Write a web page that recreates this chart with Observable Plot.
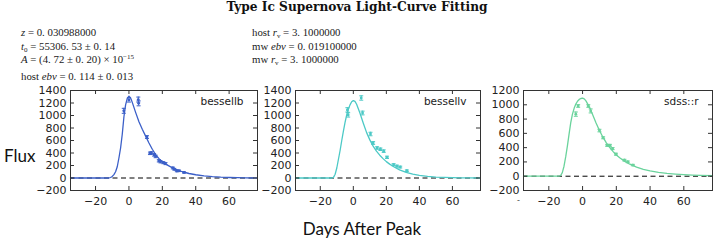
<!DOCTYPE html>
<html><head><meta charset="utf-8">
<script src="https://cdn.jsdelivr.net/npm/d3@7"></script>
<script src="https://cdn.jsdelivr.net/npm/@observablehq/plot@0.6"></script>
<style>
body{margin:0;background:#fff;}
#wrap{position:relative;width:714px;height:241px;overflow:hidden;background:#fff;}
.abs{position:absolute;white-space:nowrap;}
.title{font-family:"DejaVu Serif";font-weight:bold;font-size:12.2px;line-height:14px;left:0;width:714px;text-align:center;top:0px;color:#111;}
.param{font-family:"Liberation Serif";font-size:10.8px;line-height:12px;color:#1a1a1a;}
.param i{font-style:italic;}
.param sub{font-size:7px;vertical-align:-2px;line-height:0;}
.param sup{font-size:7px;vertical-align:4px;line-height:0;}
.big{font-family:Lato;font-size:17px;color:#111;line-height:20px;}
.panel{position:absolute;top:80px;}
.dash{font-family:"DejaVu Sans";font-size:8px;line-height:6px;color:#444;}
</style></head><body><div id="wrap"></div>
<script>
// ---- data ----
const bandNames = ["bessellb", "bessellv", "sdss::r"];
const bandColors = ["#3b5fc8", "#4cc9c6", "#6ad39c"];
const xDomain = [-35, 77];
const xTicks = [-20, 0, 20, 40, 60];
const yDomains = [[-200, 1400], [-200, 1400], [-200, 1200]];
const yTicksA = [-200, 0, 200, 400, 600, 800, 1000, 1200, 1400];
const yTicksB = [-200, 0, 200, 400, 600, 800, 1000, 1200];

// model curves (days after peak, flux)
const curveX = [-35, -14, -13, -12, -11, -10, -9, -8, -7, -6, -5, -4, -3, -2, -1, 0, 1, 2, 4, 6, 8, 10, 12, 14, 16, 18, 20, 22, 25, 28, 32, 36, 40, 45, 50, 55, 60, 65, 70, 77];
const curveB = [0, 0, 0, 0, 8, 25, 55, 100, 180, 320, 480, 700, 980, 1170, 1275, 1310, 1280, 1210, 1050, 900, 780, 670, 560, 460, 375, 310, 260, 222, 178, 140, 100, 72, 52, 34, 21, 13, 8, 5, 2, 0];
const curveV = [0, 0, 0, 10, 60, 160, 300, 440, 600, 750, 890, 1010, 1100, 1170, 1220, 1238, 1225, 1180, 1040, 880, 730, 610, 510, 430, 365, 310, 262, 222, 172, 130, 90, 62, 42, 26, 15, 9, 5, 3, 1, 0];
const curveR = [0, 0, 10, 50, 140, 270, 420, 590, 750, 870, 950, 1010, 1050, 1075, 1088, 1092, 1082, 1055, 970, 860, 745, 640, 550, 470, 405, 348, 298, 258, 208, 168, 126, 96, 75, 55, 40, 30, 22, 16, 12, 8];

// observations
const obsXB = [-3.1, 0.0, 5.6, 5.8, 10.8, 12.6, 13.5, 15.1, 16.0, 17.9, 18.9, 20.6, 21.9, 26.3, 27.2, 28.7, 30.0, 33.0];
const obsYB = [1075, 1250, 1255, 1195, 655, 395, 400, 370, 345, 275, 260, 245, 230, 160, 140, 112, 115, 88];
const obsEB = [40, 35, 40, 40, 22, 20, 20, 20, 20, 18, 18, 16, 16, 14, 14, 12, 12, 10];
const obsXV = [-3.6, -3.1, 4.8, 5.6, 10.4, 12.0, 14.4, 16.4, 18.4, 20.4, 24.4, 26.4, 28.4, 32.4];
const obsYV = [1090, 1010, 1280, 1040, 704, 560, 480, 460, 430, 331, 213, 190, 175, 117];
const obsEV = [35, 35, 35, 30, 28, 22, 20, 20, 20, 18, 16, 16, 15, 12];
const obsXR = [-4.0, -2.6, 3.4, 4.8, 10.0, 12.2, 14.6, 16.2, 17.8, 19.8, 24.8, 26.8, 29.8];
const obsYR = [869, 983, 983, 914, 639, 538, 432, 432, 386, 308, 225, 201, 156];
const obsER = [30, 18, 18, 28, 18, 14, 14, 14, 14, 14, 12, 12, 10];

// ---- layout ----
const curves = [curveB, curveV, curveR];
const obsX = [obsXB, obsXV, obsXR], obsY = [obsYB, obsYV, obsYR], obsE = [obsEB, obsEV, obsER];
const layout = [
  {left: 22, width: 240, ml: 48, mr: 5},
  {left: 262, width: 223, ml: 33, mr: 5},
  {left: 485, width: 229, ml: 38, mr: 2}
];
const H = 135, MT = 10, MB = 25, IH = H - MT - MB;
const cap = {draw(ctx, size) { const r = Math.sqrt(size / Math.PI); ctx.moveTo(-r, 0); ctx.lineTo(r, 0); }};
const fmt = d => (d < 0 ? "\u2212" : "") + Math.abs(d);

const wrap = document.getElementById("wrap");
function addText(html, cls, left, top) {
  const d = document.createElement("div");
  d.className = "abs " + cls;
  d.innerHTML = html;
  if (left != null) d.style.left = left + "px";
  d.style.top = top + "px";
  wrap.appendChild(d);
  return d;
}
addText("Type Ic Supernova Light-Curve Fitting", "title", null, 0);
addText("<i>z</i> = 0. 030988000", "param", 21, 26);
addText("<i>t</i><sub>0</sub> = 55306. 53 ± 0. 14", "param", 21, 40);
addText("<i>A</i> = (4. 72 ± 0. 20) × 10<sup>−15</sup>", "param", 21, 53);
addText("host <i>ebv</i> = 0. 114 ± 0. 013", "param", 21, 70);
addText("host <i>r</i><sub>v</sub> = 3. 1000000", "param", 252, 26);
addText("mw <i>ebv</i> = 0. 019100000", "param", 252, 40);
addText("mw <i>r</i><sub>v</sub> = 3. 1000000", "param", 252, 53);
addText("Flux", "big", 4, 146);
const xl = addText("Days After Peak", "big", 0, 219);
xl.style.width = "724px"; xl.style.textAlign = "center";

bandNames.forEach((name, i) => {
  const L = layout[i];
  const IW = L.width - L.ml - L.mr;
  const color = bandColors[i];
  const yTicks = i === 2 ? yTicksB : yTicksA;
  const curve = curveX.map((x, j) => ({x, y: curves[i][j]}));
  const pts = obsX[i].map((x, j) => ({x, y: obsY[i][j], e: obsE[i][j]}));
  const svg = Plot.plot({
    width: L.width, height: H, marginTop: MT, marginBottom: MB, marginLeft: L.ml, marginRight: L.mr,
    x: {domain: xDomain, label: null},
    y: {domain: yDomains[i], label: null},
    style: {fontFamily: "DejaVu Sans", fontSize: "11px", color: "#222", background: "transparent", overflow: "visible"},
    marks: [
      Plot.ruleY([0], {stroke: "#000", strokeDasharray: "5,3.5", strokeWidth: 1}),
      Plot.line(curve, {x: "x", y: "y", stroke: color, strokeWidth: 1.3}),
      Plot.ruleX(pts, {x: "x", y1: d => d.y - d.e, y2: d => d.y + d.e, stroke: color, strokeWidth: 1}),
      Plot.dot(pts, {x: "x", y: d => d.y - d.e, symbol: cap, r: 2, stroke: color, strokeWidth: 1}),
      Plot.dot(pts, {x: "x", y: d => d.y + d.e, symbol: cap, r: 2, stroke: color, strokeWidth: 1}),
      Plot.dot(pts, {x: "x", y: "y", r: 1.4, fill: color}),
      Plot.frame({stroke: "#333", strokeWidth: 1}),
      Plot.axisX({ticks: xTicks, tickFormat: fmt, tickSize: 0, tickPadding: 7, label: null}),
      Plot.axisY({ticks: yTicks, tickFormat: fmt, tickSize: 0, tickPadding: 4, label: null}),
      Plot.tickX(xTicks, {x: d => d, insetTop: IH - 4, stroke: "#333"}),
      Plot.tickX(xTicks, {x: d => d, insetBottom: IH - 4, stroke: "#333"}),
      Plot.tickY(yTicks, {y: d => d, insetLeft: IW - 4, stroke: "#333"}),
      Plot.tickY(yTicks, {y: d => d, insetRight: IW - 4, stroke: "#333"}),
      Plot.text([name], {text: d => d, frameAnchor: "top-right", dx: -14, dy: 7, fontSize: 10.5, fill: "#222"})
    ]
  });
  const holder = document.createElement("div");
  holder.className = "panel";
  holder.style.left = L.left + "px";
  holder.appendChild(svg);
  wrap.appendChild(holder);
});
addText("-", "dash", 517, 198);
</script>
</body></html>
